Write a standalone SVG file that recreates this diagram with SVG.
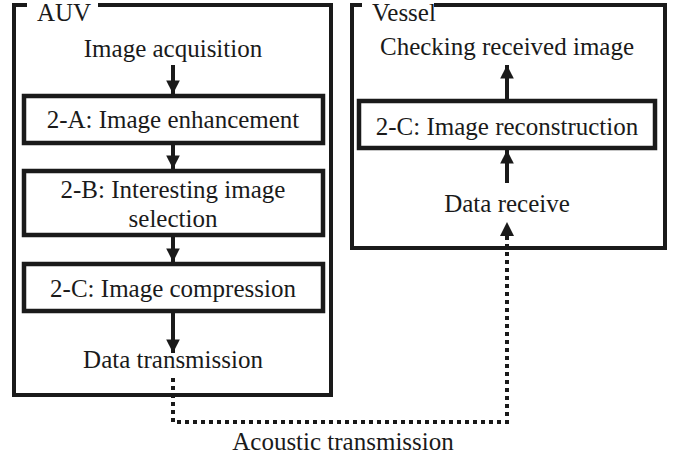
<svg xmlns="http://www.w3.org/2000/svg" width="679" height="458" viewBox="0 0 679 458">
<defs>
<marker id="ah" viewBox="0 0 10 10" refX="10" refY="5" markerWidth="3.4" markerHeight="3.6" markerUnits="strokeWidth" orient="auto">
<path d="M0,0 L10,5 L0,10 Z" fill="#1a1a1a"/>
</marker>
</defs>
<style>
text{font-size:25px;fill:#1a1a1a;text-anchor:middle}
.frame{fill:none;stroke:#1a1a1a;stroke-width:4}
.box{fill:#fff;stroke:#1a1a1a;stroke-width:4.5}
.arr{stroke:#1a1a1a;stroke-width:4;fill:none;marker-end:url(#ah)}
.dot{stroke:#1a1a1a;stroke-width:4;fill:none;stroke-dasharray:4 4}
.lbl{text-anchor:start}
</style>
<rect width="679" height="458" fill="#fff"/>
<g font-family="Liberation Serif, Times New Roman, DejaVu Serif, serif">
<g id="auv">
<path class="frame" d="M27,5 H14 V395 H331 V5 H98"/>
<text class="lbl" x="37" y="21">AUV</text>
</g>
<g id="vessel">
<path class="frame" d="M362,5 H352 V248 H665 V5 H434"/>
<text class="lbl" x="372" y="21">Vessel</text>
</g>
<g id="acq"><text x="173" y="57">Image acquisition</text></g>
<g id="enh"><rect class="box" x="24" y="96" width="299" height="47"/><text x="173" y="128">2-A: Image enhancement</text></g>
<g id="sel"><rect class="box" x="24" y="171" width="299" height="64"/><text x="173" y="198">2-B: Interesting image</text><text x="173" y="227">selection</text></g>
<g id="comp"><rect class="box" x="24" y="264" width="299" height="47"/><text x="173" y="297">2-C: Image compression</text></g>
<g id="tx"><text x="173" y="368">Data transmission</text></g>
<g id="check"><text x="507" y="55">Checking received image</text></g>
<g id="recon"><rect class="box" x="359" y="101" width="296" height="47"/><text x="507" y="135">2-C: Image reconstruction</text></g>
<g id="rx"><text x="507" y="212">Data receive</text></g>
<g id="acoustic"><text x="343" y="450">Acoustic transmission</text></g>
</g>
<g id="connectors">
<line class="arr" x1="173" y1="65" x2="173" y2="94"/>
<line class="arr" x1="173" y1="143" x2="173" y2="169"/>
<line class="arr" x1="173" y1="235" x2="173" y2="262"/>
<line class="arr" x1="173" y1="311" x2="173" y2="353"/>
<line class="arr" x1="507" y1="99" x2="507" y2="65"/>
<line class="arr" x1="507" y1="183" x2="507" y2="150"/>
<path class="dot" d="M173,378 V422 H507 V236"/>
<path d="M500,236 L507,222 L514,236 Z" fill="#1a1a1a"/>
</g>
</svg>
